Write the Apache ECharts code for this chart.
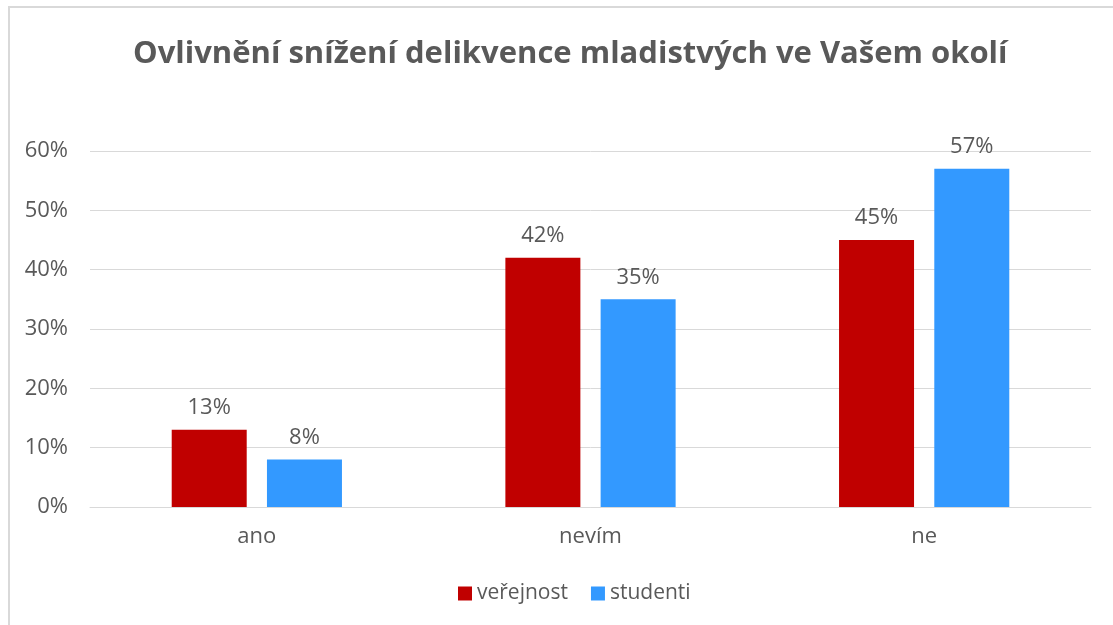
<!DOCTYPE html>
<html>
<head>
<meta charset="utf-8">
<script src="https://cdn.jsdelivr.net/npm/echarts@6/dist/echarts.min.js"></script>
<style>
  html, body { margin: 0; padding: 0; background: #fff; overflow: hidden; }
  #frame { position: absolute; left: 8px; top: 6px; width: 1200px; height: 700px;
           border-left: 2px solid #d9d9d9; border-top: 2px solid #d9d9d9; }
  #main { position: absolute; left: 0; top: 0; width: 1113px; height: 625px; }
</style>
</head>
<body>
<div id="frame"></div>
<div id="main"></div>
<script>
var categories = ['ano', 'nevím', 'ne'];
var verejnost = [13, 42, 45];
var studenti = [8, 35, 57];
var yTicks = [0, 10, 20, 30, 40, 50, 60];

var myChart;
var labelFont = '"Open Sans", "Noto Sans", sans-serif';
var textColor = '#595959';

function initializeChart() {
  var chartDom = document.getElementById('main');
  myChart = echarts.init(chartDom);
  var option = {
    animation: false,
    title: {
      text: 'Ovlivnění snížení delikvence mladistvých ve Vašem okolí',
      left: 128,
      top: 34,
      textStyle: {
        color: textColor,
        fontSize: 31,
        fontWeight: 'bold',
        fontFamily: labelFont
      }
    },
    legend: {
      bottom: 16,
      left: 453,
      itemWidth: 14,
      itemHeight: 14,
      itemGap: 23,
      icon: 'rect',
      textStyle: {
        color: textColor,
        fontSize: 21,
        fontFamily: labelFont,
        padding: [0, 0, 0, 0]
      },
      data: ['veřejnost', 'studenti']
    },
    grid: {
      left: 90,
      right: 22,
      top: 151,
      bottom: 118
    },
    xAxis: {
      type: 'category',
      data: categories,
      axisLine: { lineStyle: { color: '#d9d9d9', width: 1 } },
      axisTick: { show: false },
      axisLabel: {
        color: textColor,
        fontSize: 22,
        fontFamily: labelFont,
        margin: 19
      }
    },
    yAxis: {
      type: 'value',
      min: yTicks[0],
      max: yTicks[yTicks.length - 1],
      interval: 10,
      axisLine: { show: false },
      axisTick: { show: false },
      splitLine: { lineStyle: { color: '#d9d9d9', width: 1 } },
      axisLabel: {
        color: textColor,
        fontSize: 22,
        fontFamily: labelFont,
        margin: 22,
        formatter: '{value}%'
      }
    },
    series: [
      {
        name: 'veřejnost',
        type: 'bar',
        data: verejnost,
        barWidth: 75,
        barGap: '27%',
        itemStyle: { color: '#c00000' },
        label: {
          show: true,
          position: 'top',
          distance: 11,
          formatter: '{c}%',
          color: textColor,
          fontSize: 22,
          fontFamily: labelFont
        }
      },
      {
        name: 'studenti',
        type: 'bar',
        data: studenti,
        barWidth: 75,
        barGap: '27%',
        itemStyle: { color: '#3399ff' },
        label: {
          show: true,
          position: 'top',
          distance: 11,
          formatter: '{c}%',
          color: textColor,
          fontSize: 22,
          fontFamily: labelFont
        }
      }
    ]
  };
  myChart.setOption(option);
}

document.addEventListener('DOMContentLoaded', () => {
  initializeChart();
});
</script>
</body>
</html>
